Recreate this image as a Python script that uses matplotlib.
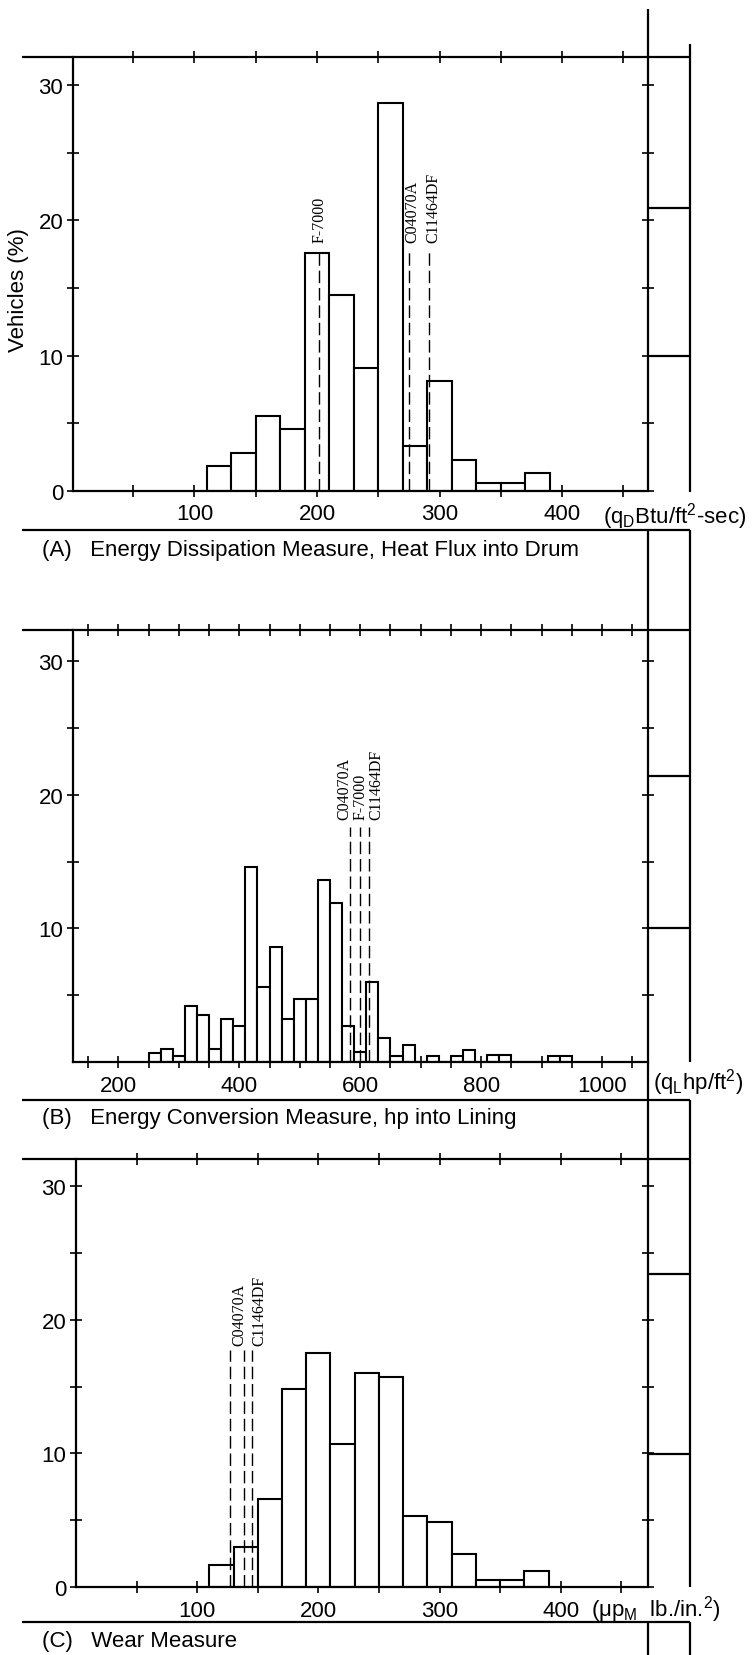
import matplotlib.pyplot as plt

plt.rcParams['font.family'] = ['Liberation Sans Narrow', 'Liberation Sans', 'DejaVu Sans']
plt.rcParams['mathtext.default'] = 'regular'

# ---- data (bin left edge, % of vehicles) ----
bins_a = [110, 130, 150, 170, 190, 210, 230, 250, 270, 290, 310, 330, 350, 370]
pct_a = [1.8, 2.8, 5.5, 4.6, 17.6, 14.5, 9.1, 28.7, 3.3, 8.1, 2.3, 0.6, 0.6, 1.3]

bins_b = [250, 270, 290, 310, 330, 350, 370, 390, 410, 430, 450, 470, 490, 510,
          530, 550, 570, 590, 610, 630, 650, 670, 690, 710, 730, 750, 770, 790,
          810, 830, 850, 870, 890, 910, 930]
pct_b = [0.7, 1.0, 0.5, 4.2, 3.5, 1.0, 3.2, 2.7, 14.6, 5.6, 8.6, 3.2, 4.7, 4.7,
         13.6, 11.9, 2.7, 0.8, 6.0, 1.8, 0.5, 1.3, 0, 0.5, 0, 0.5, 0.9, 0,
         0.55, 0.55, 0, 0, 0, 0.5, 0.5]

bins_c = [110, 130, 150, 170, 190, 210, 230, 250, 270, 290, 310, 330, 350, 370]
pct_c = [1.7, 3.0, 6.6, 14.8, 17.5, 10.7, 16.0, 15.7, 5.3, 4.9, 2.5, 0.55, 0.55, 1.2]

# reference linings (dashed markers)
ref_a_x = [202, 275, 291]
ref_a_text_x = [202, 278, 295]
ref_a_names = ['F-7000', 'C04070A', 'C11464DF']

ref_b_x = [583, 599, 615]
ref_b_text_x = [574, 600, 626]
ref_b_names = ['C04070A', 'F-7000', 'C11464DF']

ref_c_x = [127, 139, 145]
ref_c_text_x = [None, 135, 151]
ref_c_names = ['', 'C04070A', 'C11464DF']

W, H = 756, 1656
fig = plt.figure(figsize=(W / 100, H / 100), dpi=100)


def px_axes(left, right, top, bottom):
    return fig.add_axes([left / W, 1 - bottom / H, (right - left) / W, (bottom - top) / H])


def panel(ax, bins, pct, xlim, ymax, xmajor, xminor, ymajor, refs, ref_top, text_y):
    ax.bar(bins, pct, width=20, align='edge', facecolor='white',
           edgecolor='black', linewidth=1.5, zorder=2)
    ax.set_xlim(*xlim)
    ax.set_ylim(0, ymax)
    ax.patch.set_alpha(0)
    for s in ['top', 'right']:
        ax.spines[s].set_visible(False)
    for s in ['left', 'bottom']:
        ax.spines[s].set_linewidth(1.6)
    ax.set_xticks(xmajor)
    ax.set_xticks(xminor, minor=True)
    ax.set_yticks(ymajor)
    ax.set_yticks([5, 15, 25], minor=True)
    ax.tick_params(which='both', direction='inout', length=8, width=1.2,
                   top=True, right=True, labelsize=16)
    ax.tick_params(axis='x', pad=5)
    ax.tick_params(axis='y', pad=3)
    xs, tx, names = refs
    ax.vlines(xs, 0, ref_top, colors='black', linestyles=(0, (9, 3.5)),
              linewidth=1.0, zorder=3)
    for x, name in zip(tx, names):
        if name:
            ax.text(x, text_y, name, rotation=90, ha='center', va='bottom',
                    family=['Liberation Serif', 'DejaVu Serif'], fontsize=11.5)


ax_a = px_axes(73, 648, 58, 491.7)
panel(ax_a, bins_a, pct_a, (1, 470), 32.1, [100, 200, 300, 400],
      [50, 150, 250, 350, 450], [0, 10, 20, 30],
      (ref_a_x, ref_a_text_x, ref_a_names), 17.9, 18.4)

ax_b = px_axes(73, 648, 631, 1063.3)
panel(ax_b, bins_b, pct_b, (125, 1076), 32.3, [200, 400, 600, 800, 1000],
      [150, 250, 300, 350, 450, 500, 550, 650, 700, 750, 850, 900, 950, 1050],
      [10, 20, 30], (ref_b_x, ref_b_text_x, ref_b_names), 17.6, 18.2)

ax_c = px_axes(76, 648, 1160, 1588.3)
panel(ax_c, bins_c, pct_c, (0, 472), 32.0, [100, 200, 300, 400],
      [50, 150, 250, 350, 450], [0, 10, 20, 30],
      (ref_c_x, ref_c_text_x, ref_c_names), 17.7, 18.1)

# ---- page frame drawn in pixel coordinates ----
ov = fig.add_axes([0, 0, 1, 1], zorder=5)
ov.set_xlim(0, W)
ov.set_ylim(H, 0)
ov.axis('off')

frame_kw = dict(color='black', linewidth=1.6, solid_capstyle='butt')
for y in [58, 531, 631, 1101, 1160, 1623]:
    ov.plot([22, 690], [y, y], **frame_kw)
for y in [209, 357, 777, 929, 1275, 1455]:
    ov.plot([648, 690], [y, y], **frame_kw)
for y0, y1 in [(10, 493), (531, 1588), (1623, 1656)]:
    ov.plot([648, 648], [y0, y1], **frame_kw)
for y0, y1 in [(45, 493), (531, 1063), (1101, 1588), (1623, 1656)]:
    ov.plot([690, 690], [y0, y1], **frame_kw)

ov.text(19, 290, 'Vehicles (%)', rotation=90, ha='center', va='center', fontsize=16)

ov.text(603, 517, '(q$_D$Btu/ft$^2$-sec)', ha='left', va='center', fontsize=16)
ov.text(653, 1083, '(q$_L$hp/ft$^2$)', ha='left', va='center', fontsize=16)
ov.text(591, 1610, '(\u03bcp$_M$  lb./in.$^2$)', ha='left', va='center', fontsize=16)

ov.text(42, 551, '(A)   Energy Dissipation Measure, Heat Flux into Drum',
        ha='left', va='center', fontsize=16)
ov.text(42, 1119, '(B)   Energy Conversion Measure, hp into Lining',
        ha='left', va='center', fontsize=16)
ov.text(42, 1642, '(C)   Wear Measure', ha='left', va='center', fontsize=16)

fig.savefig('out.png', dpi=100, facecolor='white')
